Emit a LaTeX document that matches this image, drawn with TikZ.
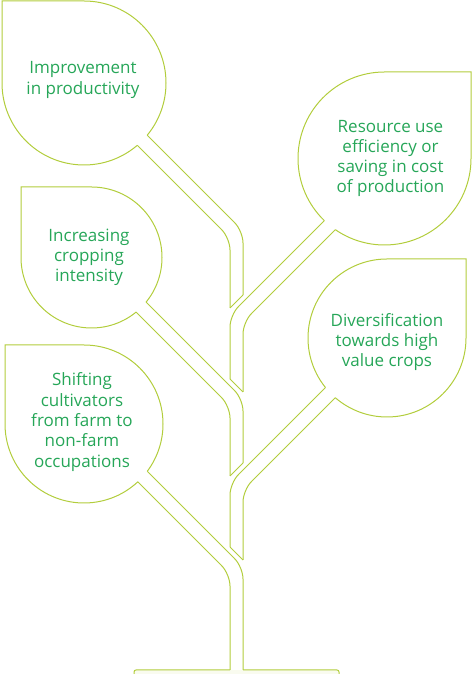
\documentclass[tikz,border=0pt]{standalone}
\usepackage{fontspec}
\setmainfont{Open Sans}
\usetikzlibrary{calc}

\definecolor{stemgreen}{RGB}{178,205,60}
\definecolor{textgreen}{RGB}{38,166,88}

\begin{document}
\begin{tikzpicture}[x=1pt, y=1pt,
	stemline/.style={draw=stemgreen, line width=1pt},
	stembend/.style={stemline, rounded corners=12pt},
	leaftext/.style={text=textgreen, align=center, font=\fontsize{17}{20.3}\selectfont}]
	\useasboundingbox (0,0) rectangle (474,674);
	\def \xl {230}
	\def \xr {243}

	% improvement in productivity
	\coordinate (c1) at (84,591);
	\coordinate (u1) at ($(c1)+(-39.56:82)$);
	\coordinate (l1) at ($(c1)+(-49.45:82)$);
	\draw[stemline] (l1) arc[start angle=-49.45, end angle=-180, radius=82]
		-- ++(0,82) -- ++(82,0) arc[start angle=90, end angle=-39.56, radius=82];
	\draw[stembend] (u1) -- (\xr,443) -- (\xr,379);
	\draw[stembend] (l1) -- (\xl,436) -- (\xl,366);
	\draw[stemline] (\xl,366) -- (\xr,379);
	\node[leaftext] (improve) at ($(c1)+(-1,3)$) {Improvement\\in productivity};

	% resource use
	\coordinate (c2) at (384.5,515.5);
	\coordinate (u2) at ($(c2)+(225.94:86.5)$);
	\coordinate (l2) at ($(c2)+(235.36:86.5)$);
	\draw[stemline] (u2) arc[start angle=225.94, end angle=90, radius=86.5]
		-- ++(86.5,0) -- ++(0,-86.5) arc[start angle=0, end angle=-124.64, radius=86.5];
	\draw[stembend] (u2) -- (\xl,359) -- (\xl,295);
	\draw[stembend] (l2) -- (\xr,352) -- (\xr,282);
	\draw[stemline] (\xl,295) -- (\xr,282);
	\node[leaftext] (resource) at ($(c2)+(6,0)$)
		{Resource use\\efficiency or\\saving in cost\\of production};

	% cropping intensity
	\coordinate (c3) at (91.5,416.5);
	\coordinate (u3) at ($(c3)+(-39.24:70.5)$);
	\coordinate (l3) at ($(c3)+(-50.76:70.5)$);
	\draw[stemline] (l3) arc[start angle=-50.76, end angle=-180, radius=70.5]
		-- ++(0,70.5) -- ++(70.5,0) arc[start angle=90, end angle=-39.24, radius=70.5];
	\draw[stembend] (u3) -- (\xr,275) -- (\xr,211);
	\draw[stembend] (l3) -- (\xl,268) -- (\xl,198);
	\draw[stemline] (\xl,198) -- (\xr,211);
	\node[leaftext] (cropping) at ($(c3)+(-2.5,0)$) {Increasing\\cropping\\intensity};

	% diversification
	\coordinate (c4) at (387,336);
	\coordinate (u4) at ($(c4)+(218.83:79)$);
	\coordinate (l4) at ($(c4)+(229.11:79)$);
	\draw[stemline] (u4) arc[start angle=218.83, end angle=90, radius=79]
		-- ++(79,0) -- ++(0,-79) arc[start angle=0, end angle=-130.89, radius=79];
	\draw[stembend] (u4) -- (\xl,191) -- (\xl,127);
	\draw[stembend] (l4) -- (\xr,184) -- (\xr,114);
	\draw[stemline] (\xl,127) -- (\xr,114);
	\node[leaftext] (diversify) at ($(c4)+(0,-4)$)
		{Diversification\\towards high\\value crops};

	% shifting cultivators
	\coordinate (c5) at (84,250);
	\coordinate (u5) at ($(c5)+(-36.77:79)$);
	\coordinate (l5) at ($(c5)+(-47.05:79)$);
	\draw[stemline] (l5) arc[start angle=-47.05, end angle=-180, radius=79]
		-- ++(0,79) -- ++(79,0) arc[start angle=90, end angle=-36.77, radius=79];
	\draw[stembend] (u5) -- (\xr,107) -- (\xr,4);
	\draw[stembend] (l5) -- (\xl,100) -- (\xl,4);
	\node[leaftext] (shifting) at ($(c5)+(-2,2)$)
		{Shifting\\cultivators\\from farm to\\non-farm\\occupations};

	% ground
	\fill[stemgreen!8] (134,0) rectangle (339,4);
	\draw[stemline, rounded corners=2pt] (134,0) -- (134,4) -- (\xl,4);
	\draw[stemline, rounded corners=2pt] (\xr,4) -- (339,4) -- (339,0);
\end{tikzpicture}
\end{document}
